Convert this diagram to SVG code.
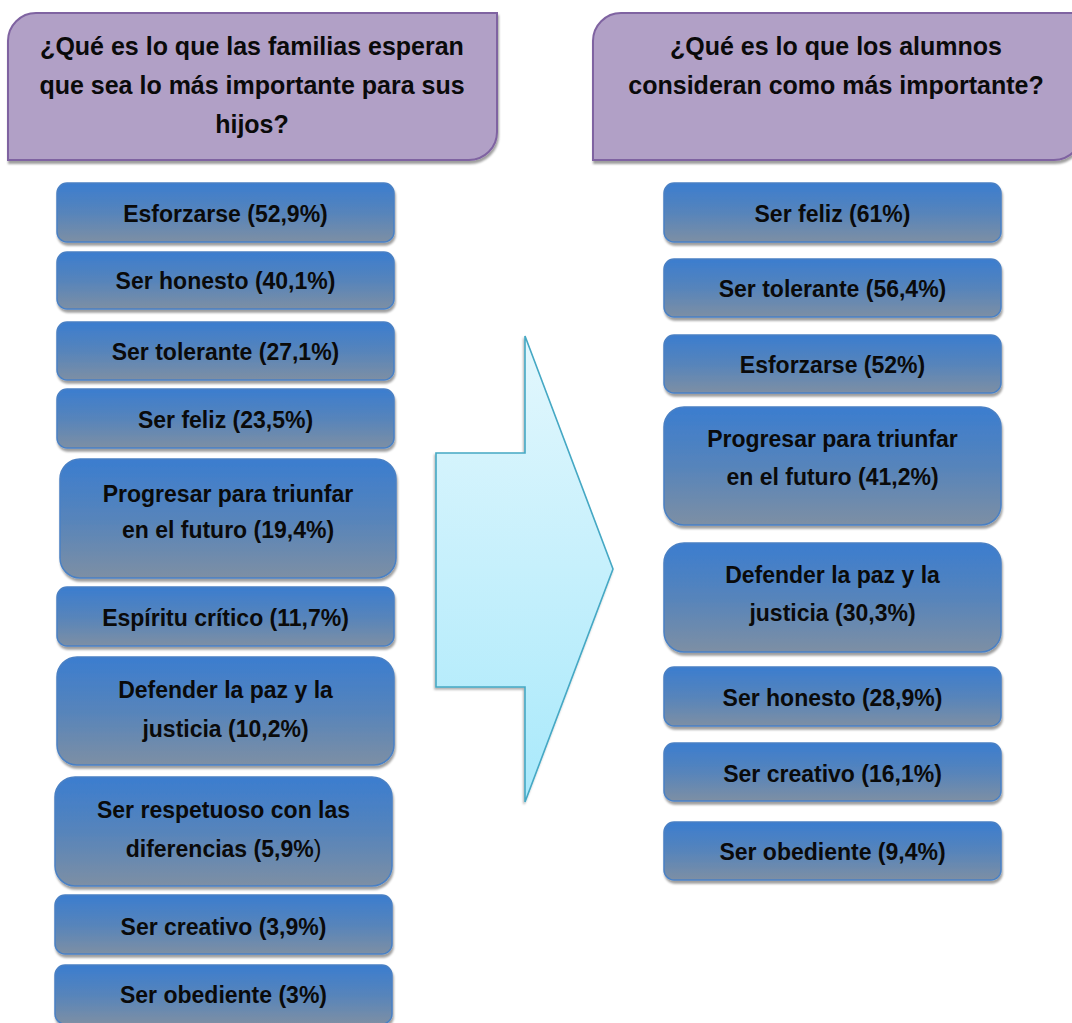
<svg xmlns="http://www.w3.org/2000/svg" width="1072" height="1023" viewBox="0 0 1072 1023">
<defs>
<linearGradient id="gBox" x1="0" y1="0" x2="0" y2="1">
<stop offset="0" stop-color="#3b7dcf"/>
<stop offset="0.5" stop-color="#5684bb"/>
<stop offset="1" stop-color="#7d8fa4"/>
</linearGradient>
<linearGradient id="gArrow" x1="0" y1="0" x2="0" y2="1">
<stop offset="0" stop-color="#e3f7fd"/>
<stop offset="1" stop-color="#a9e9fb"/>
</linearGradient>
<filter id="sh" x="-5%" y="-10%" width="110%" height="125%">
<feDropShadow dx="1" dy="3" stdDeviation="0.8" flood-color="#000" flood-opacity="0.38"/>
</filter>
<filter id="shA" x="-10%" y="-5%" width="120%" height="110%">
<feDropShadow dx="-1" dy="2" stdDeviation="0.8" flood-color="#000" flood-opacity="0.3"/>
</filter>
</defs>
<style>
.hdr{fill:#b1a0c6;stroke:#7f63a1;stroke-width:2;filter:url(#sh)}
.box{fill:url(#gBox);stroke:#4a80c4;stroke-width:1.5;filter:url(#sh)}
.arrow{fill:url(#gArrow);stroke:#45a8c4;stroke-width:1.6;filter:url(#shA)}
text{font-family:"Liberation Sans",Arial,sans-serif;font-weight:bold;fill:#0a0a0a;text-anchor:middle}
.ht{font-size:25px}
.bt{font-size:23px}
</style>
<rect width="1072" height="1023" fill="#ffffff"/>

<g id="connectors">
<path class="arrow" d="M436,453 L525,453 L525,336 L613,569 L525,802 L525,687 L436,687 Z"/>
</g>

<g id="header-familias">
<path class="hdr" d="M8,160 L8,41 A28,28 0 0 1 36,13 L497,13 L497,132 A28,28 0 0 1 469,160 Z"/>
<text class="ht" x="252" y="55">¿Qué es lo que las familias esperan</text>
<text class="ht" x="252" y="94">que sea lo más importante para sus</text>
<text class="ht" x="252" y="133">hijos?</text>
</g>

<g id="header-alumnos">
<path class="hdr" d="M593,160 L593,41 A28,28 0 0 1 621,13 L1082,13 L1082,132 A28,28 0 0 1 1054,160 Z"/>
<text class="ht" x="836" y="55">¿Qué es lo que los alumnos</text>
<text class="ht" x="836" y="94">consideran como más importante?</text>
</g>

<g id="f1">
<rect class="box" x="57" y="183" width="337" height="59" rx="10"/>
<text class="bt" x="225.5" y="222">Esforzarse (52,9%)</text>
</g>
<g id="f2">
<rect class="box" x="57" y="252" width="337" height="57" rx="10"/>
<text class="bt" x="225.5" y="289">Ser honesto (40,1%)</text>
</g>
<g id="f3">
<rect class="box" x="57" y="322" width="337" height="58" rx="10"/>
<text class="bt" x="225.5" y="360">Ser tolerante (27,1%)</text>
</g>
<g id="f4">
<rect class="box" x="57" y="389" width="337" height="59" rx="10"/>
<text class="bt" x="225.5" y="428">Ser feliz (23,5%)</text>
</g>
<g id="f5">
<rect class="box" x="60" y="459" width="336" height="119" rx="20"/>
<text class="bt" x="228" y="502">Progresar para triunfar</text>
<text class="bt" x="228" y="538">en el futuro (19,4%)</text>
</g>
<g id="f6">
<rect class="box" x="57" y="587" width="337" height="59" rx="10"/>
<text class="bt" x="225.5" y="626">Espíritu crítico (11,7%)</text>
</g>
<g id="f7">
<rect class="box" x="57" y="657" width="337" height="108" rx="20"/>
<text class="bt" x="225.5" y="698">Defender la paz y la</text>
<text class="bt" x="225.5" y="737">justicia (10,2%)</text>
</g>
<g id="f8">
<rect class="box" x="55" y="777" width="337" height="109" rx="20"/>
<text class="bt" x="223.5" y="818">Ser respetuoso con las</text>
<text class="bt" x="223.5" y="857">diferencias (5,9%<tspan font-weight="normal">)</tspan></text>
</g>
<g id="f9">
<rect class="box" x="55" y="895" width="337" height="59" rx="10"/>
<text class="bt" x="223.5" y="935">Ser creativo (3,9%)</text>
</g>
<g id="f10">
<rect class="box" x="55" y="965" width="337" height="59" rx="10"/>
<text class="bt" x="223.5" y="1003">Ser obediente (3%)</text>
</g>

<g id="a1">
<rect class="box" x="664" y="183" width="337" height="59" rx="10"/>
<text class="bt" x="832.5" y="222">Ser feliz (61%)</text>
</g>
<g id="a2">
<rect class="box" x="664" y="259" width="337" height="58" rx="10"/>
<text class="bt" x="832.5" y="297">Ser tolerante (56,4%)</text>
</g>
<g id="a3">
<rect class="box" x="664" y="335" width="337" height="58" rx="10"/>
<text class="bt" x="832.5" y="373">Esforzarse (52%)</text>
</g>
<g id="a4">
<rect class="box" x="664" y="407" width="337" height="118" rx="20"/>
<text class="bt" x="832.5" y="447">Progresar para triunfar</text>
<text class="bt" x="832.5" y="485">en el futuro (41,2%)</text>
</g>
<g id="a5">
<rect class="box" x="664" y="543" width="337" height="109" rx="20"/>
<text class="bt" x="832.5" y="583">Defender la paz y la</text>
<text class="bt" x="832.5" y="621">justicia (30,3%)</text>
</g>
<g id="a6">
<rect class="box" x="664" y="667" width="337" height="59" rx="10"/>
<text class="bt" x="832.5" y="706">Ser honesto (28,9%)</text>
</g>
<g id="a7">
<rect class="box" x="664" y="743" width="337" height="58" rx="10"/>
<text class="bt" x="832.5" y="782">Ser creativo (16,1%)</text>
</g>
<g id="a8">
<rect class="box" x="664" y="822" width="337" height="58" rx="10"/>
<text class="bt" x="832.5" y="860">Ser obediente (9,4%)</text>
</g>
</svg>
